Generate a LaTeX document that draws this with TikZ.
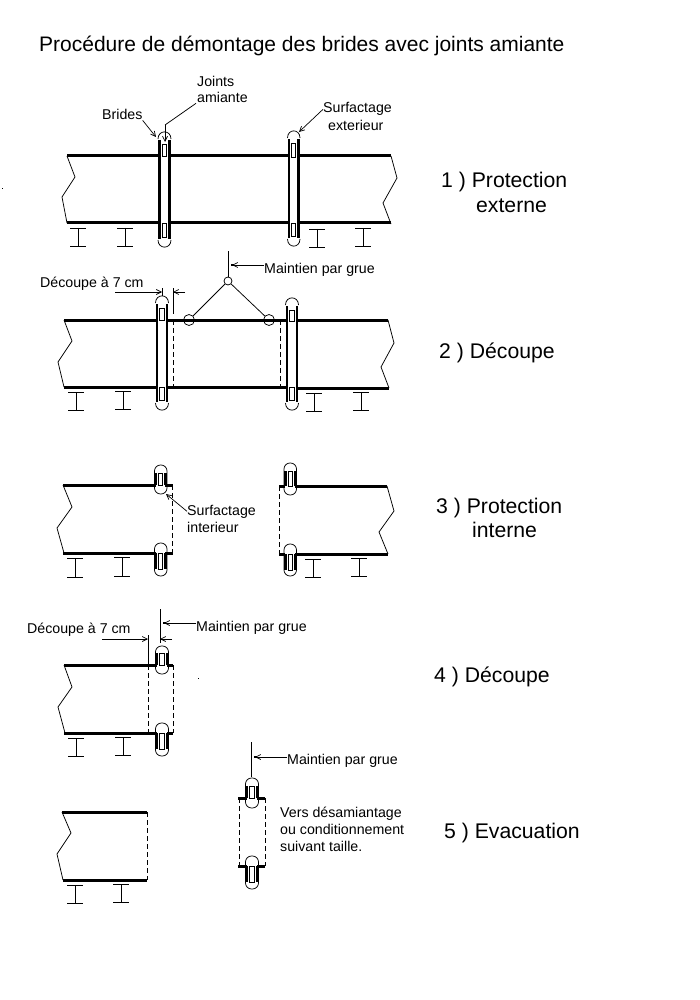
\documentclass[tikz,border=0pt]{standalone}
\usepackage{fontspec}
\setmainfont{Liberation Sans}
\usetikzlibrary{arrows.meta}
\tikzset{
 pipeline/.style={line width=3pt},
 thinline/.style={line width=0.75pt},
 cutline/.style={line width=0.75pt,dash pattern=on 5pt off 3pt},
 flangeline/.style={line width=2.8pt},
 sealbox/.style={line width=0.75pt,fill=white},
 leader/.style={line width=0.7pt,-{Straight Barb[length=5pt,width=5pt]}},
 lab/.style={inner sep=0pt,anchor=base west,font=\fontsize{14.2}{16}\selectfont},
 steplab/.style={inner sep=0pt,anchor=base west,font=\fontsize{21.2}{24}\selectfont},
 titlelab/.style={inner sep=0pt,anchor=base west,font=\fontsize{21}{24}\selectfont},
}
% I-beam support
\newcommand\ibeam[3]{\draw[thinline] (#1-8,#2)--(#1+8,#2) (#1,#2)--(#1,#3) (#1-8,#3)--(#1+8,#3);}
% zigzag: top point, two kinks, bottom point
\newcommand\zig[4]{\draw[thinline] (#1)--(#2)--(#3)--(#4);}
% full flange: xa xb ytop ybot ypipeTop ypipeBot
\newcommand\fullflange[6]{%
 \draw[thinline] (#1-1.5,#3-1) .. controls (#1-1.5,#3-10.5) and (#2+1.5,#3-10.5) .. (#2+1.5,#3-1);
 \draw[thinline] (#1-1.5,#4+1) .. controls (#1-1.5,#4+10.5) and (#2+1.5,#4+10.5) .. (#2+1.5,#4+1);
 \draw[flangeline] (#1,#3)--(#1,#4) (#2,#3)--(#2,#4);
 \draw[sealbox] (#1+2.7,#3+4) rectangle (#2-2.7,#5);
 \draw[sealbox] (#1+2.7,#6) rectangle (#2-2.7,#4-2);
}
% half flange: xa xb yline yend capA capB
\newcommand\halfflange[6]{%
 \draw[thinline,rounded corners=6pt] (#1-1.5,#5) rectangle (#2+1.5,#6);
 \draw[flangeline] (#1,#3)--(#1,#4) (#2,#3)--(#2,#4);
 \draw[sealbox] (#1+2.7,#3) rectangle (#2-2.7,#4);
}
\begin{document}
\begin{tikzpicture}[x=1pt,y=-1pt]
\useasboundingbox (0,0) rectangle (700,1000);
\fill[white] (0,0) rectangle (700,1000);
\node[titlelab] (title) at (39,52) {Procédure de démontage des brides avec joints amiante};
\fill (2,188.5) rectangle (3,189.5);
\fill (198,677.5) rectangle (199,678.5);

% ---------- 1
\draw[pipeline] (67,156)--(160,156) (169,156)--(289,156) (299,156)--(391,156);
\draw[pipeline] (67,223)--(160,223) (169,223)--(289,223) (299,223)--(391,223);
\zig{67,156}{75,177}{62,197}{67,223}
\zig{391,156}{397,178}{383,203}{391,224}
\fullflange{159.5}{169.5}{140}{239}{156}{223}
\fullflange{289}{298.5}{139}{238}{157}{223}
\ibeam{78}{228}{246}\ibeam{125}{228}{246}\ibeam{317}{229}{247}\ibeam{363}{228}{246}
\node[lab] (joints) at (197,87) {Joints};
\node[lab] (amiante) at (197,103) {amiante};
\node[lab] (brides) at (102,120) {Brides};
\node[lab] (surfext) at (323,113) {Surfactage};
\node[lab] (extr) at (328,131) {exterieur};
\coordinate (bridesT) at (156,137);
\coordinate (jointT) at (165,142);
\coordinate (jointK) at (165,125);
\coordinate (surfT) at (299,132);
\draw[leader] (brides.south east) -- (bridesT);
\draw[thinline] (amiante.south west)++(-1,0) -- (jointK);
\draw[leader] (jointK) -- (jointT);
\draw[leader] (surfext.west) -- (surfT);
\node[steplab] (s1a) at (441,188) {1 ) Protection};
\node[steplab] (s1b) at (476,212.5) {externe};

% ---------- 2
\draw[pipeline] (64,320)--(157,320) (166,320)--(287,320) (297,320)--(388,320);
\draw[pipeline] (64,387)--(157,387) (166,387)--(287,387) (297,388)--(389,388);
\zig{64,320}{72,341}{58,362}{64,387}
\zig{388,320}{394,343}{381,367}{389,388}
\fullflange{157}{167}{304}{402}{320}{387}
\fullflange{287}{297}{306}{402}{321}{387}
\draw[cutline] (173,320)--(173,387) (280,320)--(280,387);
\ibeam{76}{392}{410}\ibeam{123}{391}{409}\ibeam{314}{393}{411}\ibeam{361}{392}{410}
\node[lab] (dec2) at (40,287) {Découpe à 7 cm};
\coordinate (d2a) at (162,292);
\coordinate (d2b) at (173,292);
\coordinate (d2as) at (115,292);
\coordinate (d2bs) at (185,292);
\draw[thinline] (162,288)--(162,296) (173,288)--(173,314);
\draw[leader] (d2as)--(d2a);
\draw[leader] (d2bs)--(d2b);
\node[lab] (mg2) at (264,273) {Maintien par grue};
\coordinate (top2) at (228,251);
\draw[thinline] (top2)--(228,277);
\node[circle,draw,line width=0.75pt,minimum size=8pt,inner sep=0pt] (ring2) at (228,281) {};
\node[circle,draw,line width=0.75pt,minimum size=11pt,inner sep=0pt] (hookL) at (189,320) {};
\node[circle,draw,line width=0.75pt,minimum size=11pt,inner sep=0pt] (hookR) at (269,320) {};
\draw[thinline] (ring2)--(hookL) (ring2)--(hookR);
\coordinate (t2) at (232,265);
\draw[leader] (mg2.west|-t2) -- (t2);
\fill (231,264) rectangle (234,266);
\node[steplab] (s2) at (439,358) {2 ) Découpe};

% ---------- 3
\draw[pipeline] (63,485)--(156,485) (165,485)--(173,485) (63,553)--(156,553) (165,553)--(173,553);
\zig{63,485}{72,507}{57,528}{64,553}
\draw[cutline] (172,485)--(172,553);
\halfflange{156}{165.5}{485}{473}{465}{494}
\halfflange{156}{165.5}{553}{569}{543}{576}
\draw[pipeline] (279,486)--(285,486) (295,486)--(387,486) (279,554)--(285,554) (295,554)--(388,554);
\zig{387,486}{394,511}{379,532}{388,554}
\draw[cutline] (279,486)--(279,554);
\halfflange{285.5}{295}{486}{471}{463}{495}
\halfflange{285.5}{295}{554}{570}{544}{576}
\ibeam{75}{558}{577}\ibeam{122}{557}{576}\ibeam{313}{559}{577}\ibeam{359}{558}{576}
\node[lab] (surfint) at (187,515) {Surfactage};
\node[lab] (intr) at (187,532) {interieur};
\coordinate (sit) at (166,494);
\draw[leader] (surfint.west) -- (sit);
\node[steplab] (s3a) at (436,513) {3 ) Protection};
\node[steplab] (s3b) at (472,537) {interne};

% ---------- 4
\draw[pipeline] (64,665)--(157,665) (167,665)--(173,665) (64,733)--(157,733) (167,733)--(173,733);
\zig{64,665}{72,687}{58,707}{65,733}
\draw[cutline] (148,665)--(148,733) (173,665)--(173,733);
\halfflange{157}{167}{665}{653}{646}{674}
\halfflange{157}{167}{733}{749}{723}{756}
\ibeam{76}{738}{756}\ibeam{123}{737}{755}
\node[lab] (dec4) at (27,633) {Découpe à 7 cm};
\coordinate (d4a) at (148,639);
\coordinate (d4b) at (160,639);
\coordinate (d4as) at (102,639);
\coordinate (d4bs) at (172,639);
\coordinate (top4) at (160,609);
\draw[thinline] (148,635)--(148,665) (top4)--(160,643);
\draw[leader] (d4as)--(d4a);
\draw[leader] (d4bs)--(d4b);
\node[lab] (mg4) at (196,631) {Maintien par grue};
\coordinate (t4) at (164,623);
\draw[leader] (mg4.west|-t4) -- (t4);
\fill (163,622) rectangle (166,624);
\node[steplab] (s4) at (434,682) {4 ) Découpe};

% ---------- 5
\draw[pipeline] (62,812)--(147,812) (63,880)--(147,880);
\zig{62,812}{71,833}{57,854}{63,880}
\draw[cutline] (147,812)--(147,880);
\ibeam{75}{885}{903}\ibeam{121}{884}{902}
\draw[pipeline] (238,798)--(247,798) (257,798)--(265,798) (238,866)--(247,866) (257,866)--(265,866);
\draw[cutline] (239,798)--(239,866) (265,798)--(265,866);
\halfflange{247}{257}{798}{786}{778}{808}
\halfflange{247}{257}{866}{882}{856}{889}
\coordinate (top5) at (251,742);
\draw[thinline] (top5)--(251,777);
\node[lab] (mg5) at (287,764) {Maintien par grue};
\coordinate (t5) at (255,757);
\draw[leader] (mg5.west|-t5) -- (t5);
\fill (254,756) rectangle (257,758);
\node[lab] (v1) at (280,817) {Vers désamiantage};
\node[lab] (v2) at (280,834) {ou conditionnement};
\node[lab] (v3) at (280,851) {suivant taille.};
\node[steplab] (s5) at (444,838) {5 ) Evacuation};
\end{tikzpicture}
\end{document}
